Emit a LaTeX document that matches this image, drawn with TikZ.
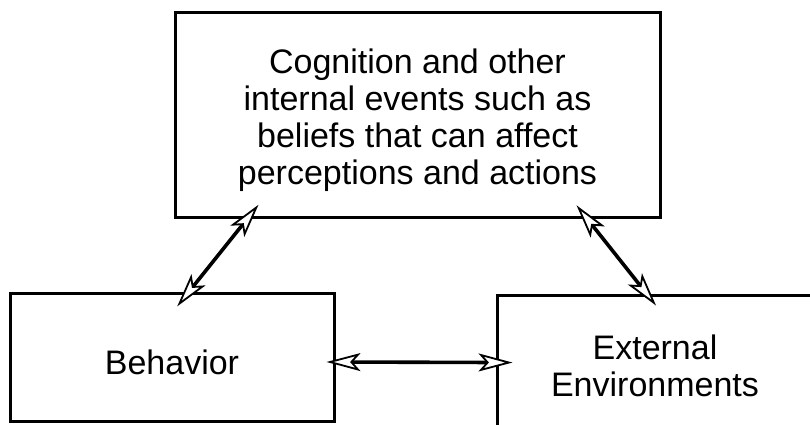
\documentclass[tikz,border=0pt]{standalone}
\usepackage{fontspec}
\setmainfont{Liberation Sans}
\usepackage{tikz}
\usetikzlibrary{arrows.meta,positioning,calc}
\newcommand{\topgap}[1]{\rule{0pt}{#1}}
\tikzset{
  conceptbox/.style={draw=black,line width=1.5pt,align=center,inner sep=0pt,font=\fontsize{17}{18.5}\selectfont},
  dualarrow/.style={{Stealth[open,fill=white,length=17pt,width=9pt,inset=4pt,line width=0.9pt]}-{Stealth[open,fill=white,length=17pt,width=9pt,inset=4pt,line width=0.9pt]},line width=1.8pt,draw=black}
}
\begin{document}
\begin{tikzpicture}[x=0.5pt,y=-0.5pt]
\useasboundingbox (0,0) rectangle (810,424);
\clip (0,0) rectangle (810,424);
\node[conceptbox,minimum width=242.5pt,minimum height=102.5pt] (cog) at (417.5,114.5) {\topgap{18.5pt}Cognition and other\\internal events such as\\beliefs that can affect\\perceptions and actions};
\node[conceptbox,minimum width=162pt,minimum height=64pt] (beh) at (172,357) {\topgap{18pt}Behavior};
\node[conceptbox,minimum width=158pt,minimum height=67.5pt] (ext) at (655,362.5) {\topgap{16pt}External\\Environments};
\draw[dualarrow,shorten <=-8.8pt,shorten >=-9.5pt] ([xshift=37pt]cog.south west) -- ([xshift=90.3pt]beh.north west);
\draw[dualarrow,shorten <=-8.4pt,shorten >=-7.7pt] ([xshift=-37.25pt]cog.south east) -- ([xshift=75.5pt]ext.north west);
\draw[dualarrow,shorten <=-4.5pt,shorten >=-8.5pt] ([yshift=-2.5pt]beh.east) -- (ext.west);
\end{tikzpicture}
\end{document}
